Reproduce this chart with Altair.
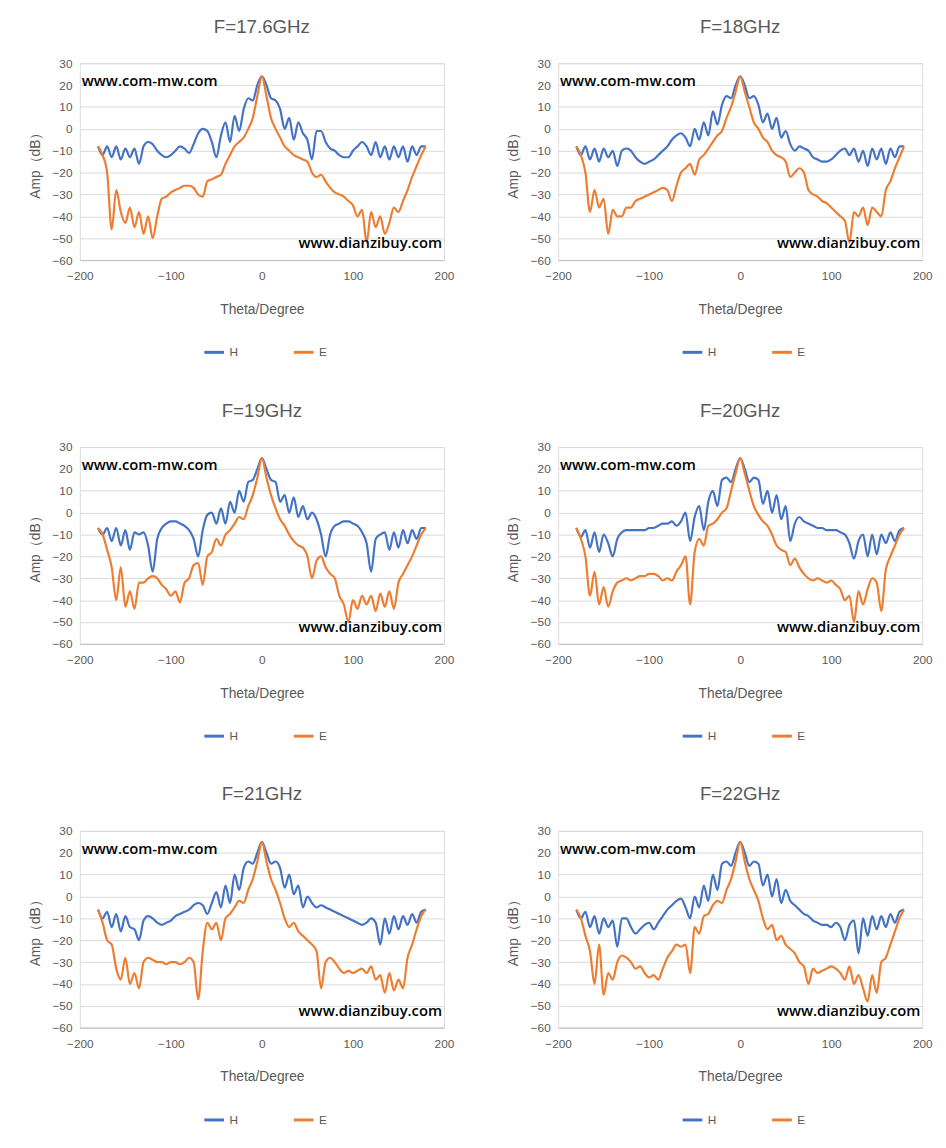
import altair as alt
import pandas as pd

theta = list(range(-180, 181, 5))

titles = ["F=17.6GHz", "F=18GHz", "F=19GHz", "F=20GHz", "F=21GHz", "F=22GHz"]

h_176 = [-8,-12,-8,-13,-8,-14,-9,-13,-9,-16,-8,-6,-7,-10,-12,-13,-12,-10,-8,-9,-11,-7,-2,0,-1,-6,-13,-3,3,-6,6,-1,9,14,13,20,24,
         20,14,13,9,0,5,-5,3,-2,-5,-14,-1,-1,-6,-9,-10,-12,-13,-13,-10,-8,-6,-8,-12,-6,-13,-8,-14,-8,-13,-8,-15,-8,-12,-8,-8]
e_176 = [-8,-12,-20,-46,-28,-38,-43,-36,-45,-38,-48,-40,-50,-40,-32,-31,-29,-28,-27,-26,-26,-27,-30,-31,-24,-23,-22,-21,-16,-12,-8,-6,-4,0,5,15,24,
         15,5,0,-4,-8,-10,-12,-13,-14,-15,-20,-22,-21,-24,-27,-29,-30,-31,-33,-35,-40,-37,-52,-38,-45,-40,-48,-43,-36,-38,-33,-28,-22,-17,-12,-8]
h_18 = [-8,-12,-8,-14,-9,-15,-9,-13,-10,-17,-10,-9,-10,-13,-15,-16,-15,-14,-12,-10,-8,-5,-3,-2,-4,-8,0,-5,3,-3,8,2,11,15,14,20,24,
        20,14,15,11,3,7,0,5,-4,-1,-7,-10,-8,-9,-10,-13,-14,-15,-15,-14,-12,-10,-9,-12,-9,-15,-10,-17,-9,-14,-9,-16,-9,-13,-8,-8]
e_18 = [-8,-12,-20,-38,-28,-36,-32,-48,-37,-40,-40,-36,-36,-33,-32,-31,-30,-29,-28,-27,-28,-33,-26,-20,-18,-16,-21,-14,-12,-9,-6,-3,-1,5,10,17,24,
        17,10,3,0,-4,-6,-10,-12,-13,-15,-22,-20,-18,-20,-28,-30,-31,-33,-34,-36,-38,-40,-42,-52,-38,-40,-36,-44,-36,-38,-40,-28,-24,-18,-13,-8]
h_19 = [-7,-10,-7,-13,-7,-15,-8,-17,-9,-10,-9,-15,-27,-12,-7,-5,-4,-4,-5,-6,-8,-12,-20,-8,-1,0,-5,2,-5,5,0,10,5,14,15,20,25,
        20,15,14,5,8,0,7,-2,3,-3,0,-3,-10,-20,-10,-6,-5,-4,-4,-5,-6,-9,-14,-27,-12,-10,-9,-17,-9,-16,-8,-14,-8,-12,-7,-7]
e_19 = [-7,-10,-17,-25,-40,-25,-43,-36,-44,-32,-32,-30,-29,-30,-33,-35,-38,-36,-41,-32,-30,-24,-23,-33,-20,-18,-12,-15,-10,-8,-5,-2,-3,3,8,16,25,
        16,8,2,-3,-6,-10,-13,-15,-16,-20,-30,-22,-20,-25,-28,-30,-38,-42,-50,-40,-44,-38,-42,-38,-45,-37,-43,-36,-44,-32,-28,-24,-20,-15,-10,-7]
h_20 = [-7,-11,-8,-16,-9,-18,-10,-14,-20,-12,-9,-8,-8,-8,-8,-8,-7,-7,-6,-5,-5,-4,-6,-4,0,-13,-2,3,-8,5,10,3,15,16,14,20,25,
        20,14,16,15,4,10,0,8,-3,3,-13,-5,-2,-4,-5,-6,-7,-7,-8,-8,-8,-9,-10,-14,-21,-13,-10,-20,-10,-19,-10,-14,-9,-13,-8,-7]
e_20 = [-7,-12,-20,-38,-27,-42,-34,-43,-36,-32,-31,-30,-31,-30,-29,-29,-28,-28,-29,-31,-30,-31,-27,-24,-20,-42,-18,-12,-15,-6,-5,-3,0,2,10,18,25,
        18,10,3,-1,-4,-6,-10,-15,-17,-18,-24,-21,-25,-28,-30,-31,-30,-31,-32,-31,-33,-35,-40,-38,-50,-36,-42,-35,-30,-32,-45,-26,-20,-15,-10,-7]
h_21 = [-6,-10,-7,-14,-8,-16,-9,-14,-15,-20,-11,-9,-10,-12,-13,-12,-11,-9,-8,-7,-6,-4,-3,-4,-8,-3,2,-5,5,-3,10,3,13,16,15,20,25,
        20,15,16,13,4,10,1,5,-5,0,-3,-5,-4,-5,-6,-7,-8,-9,-10,-11,-12,-13,-12,-10,-12,-22,-10,-17,-9,-15,-9,-13,-8,-12,-7,-6]
e_21 = [-6,-12,-20,-22,-33,-38,-28,-40,-35,-42,-30,-28,-29,-30,-30,-31,-30,-30,-31,-30,-28,-30,-47,-25,-12,-15,-12,-20,-10,-8,-5,-2,-3,3,8,16,25,
        16,8,3,-3,-10,-14,-12,-16,-18,-20,-22,-25,-42,-30,-28,-30,-33,-35,-34,-35,-34,-33,-35,-32,-38,-36,-44,-35,-43,-38,-42,-28,-22,-15,-9,-6]
h_22 = [-6,-10,-7,-14,-9,-17,-10,-14,-11,-23,-10,-10,-14,-17,-15,-13,-12,-15,-12,-9,-6,-4,-2,-1,-5,-10,0,-5,5,-2,10,3,15,16,14,20,25,
        20,14,16,15,5,10,0,8,-3,3,-2,-4,-6,-8,-9,-11,-12,-13,-13,-14,-12,-14,-20,-13,-11,-26,-10,-18,-9,-15,-9,-14,-8,-12,-7,-6]
e_22 = [-6,-10,-18,-25,-40,-22,-45,-35,-38,-30,-27,-28,-30,-33,-32,-35,-37,-36,-38,-33,-28,-25,-22,-23,-22,-35,-14,-17,-9,-8,-4,-2,-3,3,8,16,25,
        16,8,3,-2,-10,-15,-13,-20,-18,-22,-24,-26,-30,-32,-40,-33,-35,-34,-33,-32,-33,-35,-38,-32,-40,-36,-42,-48,-36,-44,-30,-28,-22,-16,-10,-6]

series = [(h_176, e_176), (h_18, e_18), (h_19, e_19), (h_20, e_20), (h_21, e_21), (h_22, e_22)]

W, H = 370, 200
FONT = "Liberation Sans"

def panel(title, h, e):
    df = pd.DataFrame({
        "theta": theta * 2,
        "amp": h + e,
        "s": ["H"] * len(theta) + ["E"] * len(theta),
        "o": list(range(len(theta))) * 2,
    })
    lines = alt.Chart(df).mark_line(strokeWidth=2.2, interpolate="monotone").encode(
        x=alt.X("theta:Q", scale=alt.Scale(domain=[-200, 200], nice=False),
                axis=alt.Axis(values=[-200, -100, 0, 100, 200], grid=False, ticks=False,
                              labelFlush=False,
                              domainColor="#bfbfbf", labelColor="#595959", labelFontSize=12,
                              labelPadding=11, title="Theta/Degree", titleColor="#595959",
                              titleFontSize=14, titleFontWeight="normal", titlePadding=21)),
        y=alt.Y("amp:Q", scale=alt.Scale(domain=[-60, 30], nice=False),
                axis=alt.Axis(values=list(range(-60, 31, 10)), ticks=False, domain=False,
                              gridColor="#d9d9d9", labelColor="#595959", labelFontSize=12,
                              labelPadding=8, title="Amp（dB）", titleColor="#595959", titleFontSize=14,
                              titleFontWeight="normal", titlePadding=10)),
        color=alt.Color("s:N", scale=alt.Scale(domain=["H", "E"], range=["#4472C4", "#ED7D31"]),
                        legend=alt.Legend(orient="none", legendX=125, legendY=H + 82, title=None,
                                          direction="horizontal",
                                          symbolType="stroke", symbolStrokeWidth=3, symbolSize=400,
                                          labelColor="#595959", labelFontSize=12, columnPadding=50)),
        order="o:Q",
    )
    wm1 = alt.Chart(pd.DataFrame({"t": ["www.com-mw.com"]})).mark_text(
        align="left", baseline="middle", fontSize=15, fontWeight=600, font="Open Sans",
        color="#000000"
    ).encode(x=alt.value(2), y=alt.value(18), text="t:N")
    wm2 = alt.Chart(pd.DataFrame({"t": ["www.dianzibuy.com"]})).mark_text(
        align="right", baseline="middle", fontSize=15, fontWeight=600, font="Open Sans",
        color="#000000"
    ).encode(x=alt.value(368), y=alt.value(183), text="t:N")
    return alt.layer(lines, wm1, wm2).properties(
        width=W, height=H,
        title=alt.TitleParams(title, fontSize=19, fontWeight="normal", color="#595959", offset=21, font=FONT),
    )

panels = [panel(t, h, e) for t, (h, e) in zip(titles, series)]
rows = [alt.hconcat(panels[i], panels[i + 1], spacing=52).resolve_scale(color="independent")
        for i in (0, 2, 4)]
chart = alt.vconcat(*rows, spacing=42).resolve_scale(color="independent").properties(
    padding={"left": 20, "top": 0, "right": 5, "bottom": 5}
).configure_view(stroke=None).configure(font=FONT)

chart.save("out.html", embed_options={"renderer": "svg", "actions": False})
